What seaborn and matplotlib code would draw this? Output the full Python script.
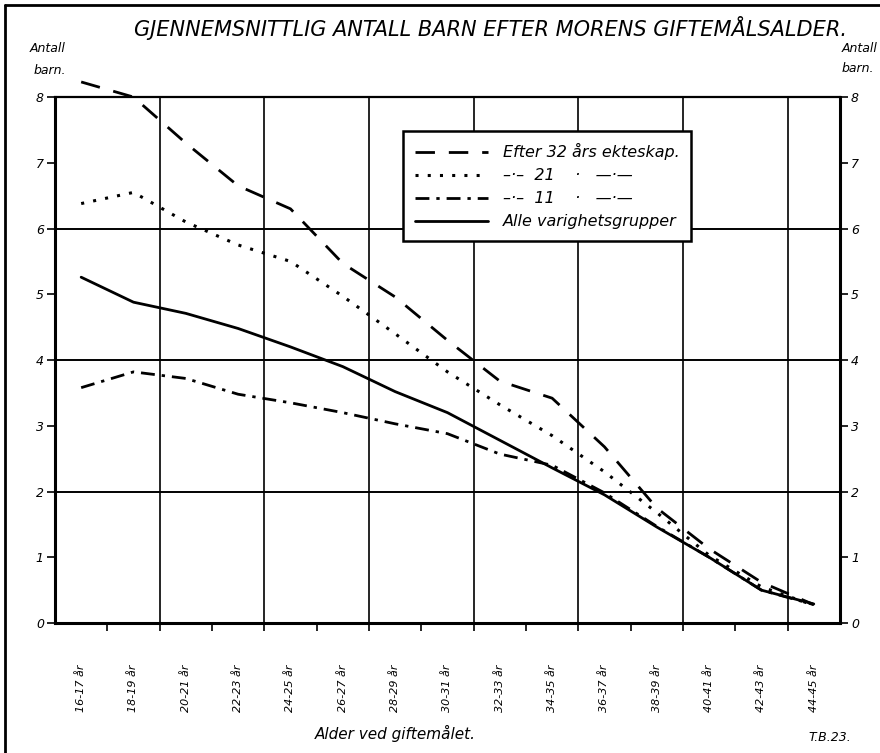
import numpy as np
import matplotlib
matplotlib.use("Agg")
import matplotlib.pyplot as plt
import seaborn as sns
from matplotlib.lines import Line2D

# values (average number of children)
age_groups = ["16-17 år", "18-19 år", "20-21 år", "22-23 år", "24-25 år",
              "26-27 år", "28-29 år", "30-31 år", "32-33 år", "34-35 år",
              "36-37 år", "38-39 år", "40-41 år", "42-43 år", "44-45 år"]
efter_32 = [8.23, 8.0, 7.3, 6.65, 6.3, 5.47, 4.96, 4.3, 3.68, 3.42, 2.68, 1.75, 1.13, 0.62, 0.28]
efter_21 = [6.38, 6.55, 6.1, 5.75, 5.5, 4.97, 4.4, 3.82, 3.32, 2.85, 2.3, 1.68, 1.03, 0.55, 0.27]
efter_11 = [3.58, 3.82, 3.72, 3.48, 3.35, 3.2, 3.03, 2.88, 2.57, 2.4, 1.98, 1.47, 1.0, 0.5, 0.28]
alle = [5.26, 4.88, 4.71, 4.48, 4.2, 3.9, 3.52, 3.2, 2.78, 2.36, 1.95, 1.46, 1.0, 0.5, 0.29]

legend_labels = ["Efter 32 års ekteskap.",
                 "–·–  21    ·   —·—",
                 "–·–  11    ·   —·—",
                 "Alle varighetsgrupper"]

sns.set_style("white")
plt.rcParams['font.family'] = ['DejaVu Sans']
plt.rcParams['font.style'] = 'italic'
for key in ['text.color', 'axes.labelcolor', 'xtick.color', 'ytick.color']:
    plt.rcParams[key] = 'black'

fig = plt.figure(figsize=(8.8, 7.53), dpi=100)
ax = fig.add_axes([0.0625, 0.1726, 0.892, 0.6985])

x = np.arange(len(age_groups))
styles = [(efter_32, (0, (7, 5)), 2.0),
          (efter_21, (0, (1, 3)), 2.2),
          (efter_11, (0, (5, 2.5, 1.2, 2.5)), 2.0),
          (alle, '-', 2.0)]

for vals, ls, lw in styles:
    sns.lineplot(x=x, y=vals, ax=ax, color='black', linestyle=ls,
                 linewidth=lw, clip_on=False, zorder=3)

ax.set_xlim(-0.5, 14.5)
ax.set_ylim(0, 8)

# grid: every 4 years, every 2 children
for gx in np.arange(1.5, 14, 2):
    ax.axvline(gx, color='black', lw=1.2, zorder=1)
for gy in [2, 4, 6]:
    ax.axhline(gy, color='black', lw=1.4, zorder=1)

for side in ['left', 'right', 'bottom']:
    ax.spines[side].set_linewidth(2.2)
    ax.spines[side].set_color('black')
ax.spines['top'].set_linewidth(1.6)
ax.spines['top'].set_color('black')

ax.set_yticks(range(9))
ax.tick_params(axis='y', length=6, width=1.2, direction='out', color='black',
               left=True, right=True, labelleft=True, labelright=True,
               labelsize=9, pad=2)

ax.set_xticks(x, labels=age_groups, rotation=90, fontsize=8)
ax.tick_params(axis='x', which='major', length=0, pad=30)
ax.set_xticks(np.arange(0.5, 14, 1), minor=True)
ax.tick_params(axis='x', which='minor', bottom=True, length=6, width=1.2,
               direction='out', color='black')
ax.set_xlabel("")
ax.set_ylabel("")

handles = [Line2D([], [], color='black', linestyle=ls, linewidth=lw)
           for _, ls, lw in styles]
leg = ax.legend(handles, legend_labels, loc='upper left',
                bbox_to_anchor=(0.443, 0.935), borderaxespad=0,
                frameon=True, fancybox=False,
                edgecolor='black', framealpha=1, handlelength=4.6,
                handletextpad=0.9, borderpad=0.75, labelspacing=0.5,
                fontsize=11.5)
leg.get_frame().set_linewidth(1.8)
leg.set_zorder(5)

fig.text(0.557, 0.963, "GJENNEMSNITTLIG ANTALL BARN EFTER MORENS GIFTEMÅLSALDER.",
         ha='center', va='center', fontsize=15)
fig.text(0.034, 0.936, "Antall", ha='left', va='center', fontsize=9)
fig.text(0.038, 0.907, "barn.", ha='left', va='center', fontsize=9)
fig.text(0.997, 0.936, "Antall", ha='right', va='center', fontsize=9)
fig.text(0.993, 0.909, "barn.", ha='right', va='center', fontsize=9)
fig.text(0.449, 0.026, "Alder ved giftemålet.", ha='center', va='center', fontsize=11)
fig.text(0.943, 0.020, "T.B.23.", ha='center', va='center', fontsize=9)

# page frame (left and top edge)
fig.add_artist(Line2D([0.006, 0.006], [0, 0.994], transform=fig.transFigure,
                      color='black', lw=2))
fig.add_artist(Line2D([0.006, 1], [0.994, 0.994], transform=fig.transFigure,
                      color='black', lw=2))

fig.savefig("out.png", dpi=100)
